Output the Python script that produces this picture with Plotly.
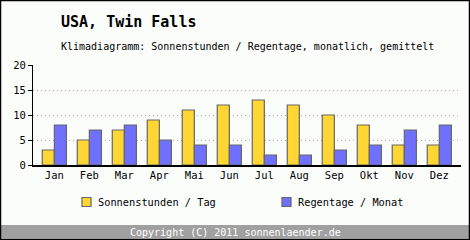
import plotly.graph_objects as go

months = ["Jan", "Feb", "Mar", "Apr", "Mai", "Jun", "Jul", "Aug", "Sep", "Okt", "Nov", "Dez"]
sun_hours = [3, 5, 7, 9, 11, 12, 13, 12, 10, 8, 4, 4]
rain_days = [8, 7, 8, 5, 4, 4, 2, 2, 3, 4, 7, 8]
y_ticks = [0, 5, 10, 15, 20]
series_names = ["Sonnenstunden / Tag", "Regentage / Monat"]

YELLOW = "#FFD633"
BLUE = "#7070FF"
EDGE = "#666666"
FONT = "DejaVu Sans Mono"

W, H = 470, 240
L, R, T, B = 33, 9, 65, 75

x_idx = list(range(len(months)))

fig = go.Figure()
fig.add_trace(go.Bar(x=x_idx, y=sun_hours, marker=dict(color=YELLOW, line=dict(color=EDGE, width=1.2)),
                     showlegend=False, name=series_names[0]))
fig.add_trace(go.Bar(x=x_idx, y=rain_days, marker=dict(color=BLUE, line=dict(color=EDGE, width=1.2)),
                     showlegend=False, name=series_names[1]))

pw = W - L - R
ph = H - T - B
def px2paper_x(px):
    return (px - L) / pw
def px2paper_y(py):
    return (H - B - py) / ph

shapes = [
    dict(type="rect", xref="paper", yref="paper", x0=px2paper_x(1), x1=px2paper_x(469),
         y0=px2paper_y(238.5), y1=px2paper_y(225), fillcolor="#A0A0A0", line=dict(width=0), layer="below"),
    dict(type="rect", xref="paper", yref="paper", x0=px2paper_x(0.5), x1=px2paper_x(469.5),
         y0=px2paper_y(239.5), y1=px2paper_y(0.5), line=dict(color="black", width=1.5), fillcolor="rgba(0,0,0,0)"),
]
annotations = [
    dict(text="<b>USA, Twin Falls</b>", xref="paper", yref="paper", x=px2paper_x(59), y=px2paper_y(22),
         xanchor="left", yanchor="middle", showarrow=False, font=dict(family=FONT, size=15)),
    dict(text="Klimadiagramm: Sonnenstunden / Regentage, monatlich, gemittelt", xref="paper", yref="paper",
         x=px2paper_x(59), y=px2paper_y(46), xanchor="left", yanchor="middle", showarrow=False,
         font=dict(family=FONT, size=10)),
    dict(text="Copyright (C) 2011 sonnenlaender.de", xref="paper", yref="paper",
         x=px2paper_x(235), y=px2paper_y(232), xanchor="center", yanchor="middle", showarrow=False,
         font=dict(family=FONT, size=10, color="white")),
]
# legend (swatch + label)
for sx, color, name in [(82, YELLOW, series_names[0]), (282, BLUE, series_names[1])]:
    shapes.append(dict(type="rect", xref="paper", yref="paper", x0=px2paper_x(sx), x1=px2paper_x(sx + 9),
                       y0=px2paper_y(206.5), y1=px2paper_y(197.5), fillcolor=color,
                       line=dict(color=EDGE, width=1.2)))
    annotations.append(dict(text=name, xref="paper", yref="paper", x=px2paper_x(sx + 14), y=px2paper_y(202),
                            xanchor="left", yanchor="middle", showarrow=False,
                            font=dict(family=FONT, size=10.3)))

fig.update_layout(
    width=W, height=H,
    margin=dict(l=L, r=R, t=T, b=B),
    paper_bgcolor="#FBFDFB", plot_bgcolor="#FBFDFB",
    barmode="group", bargap=0.31, bargroupgap=0,
    font=dict(family=FONT, size=10, color="black"),
    showlegend=False,
    xaxis=dict(range=[-0.61, 11.62], tickmode="array", tickvals=x_idx, ticktext=months,
               showline=True, linecolor="black", linewidth=1.5, ticks="", showgrid=False,
               zeroline=False, tickfont=dict(family=FONT, size=10.5), fixedrange=True),
    yaxis=dict(range=[0, 20], tickmode="array", tickvals=y_ticks, showline=True, linecolor="black",
               linewidth=1.2, ticks="outside", ticklen=4, tickcolor="black", showgrid=True,
               gridcolor="#AAAAAA", griddash="1px,3px", gridwidth=1, zeroline=False,
               tickfont=dict(family=FONT, size=10.5), fixedrange=True),
    shapes=shapes,
    annotations=annotations,
)

fig.write_html("out.html", config={"displayModeBar": False})
